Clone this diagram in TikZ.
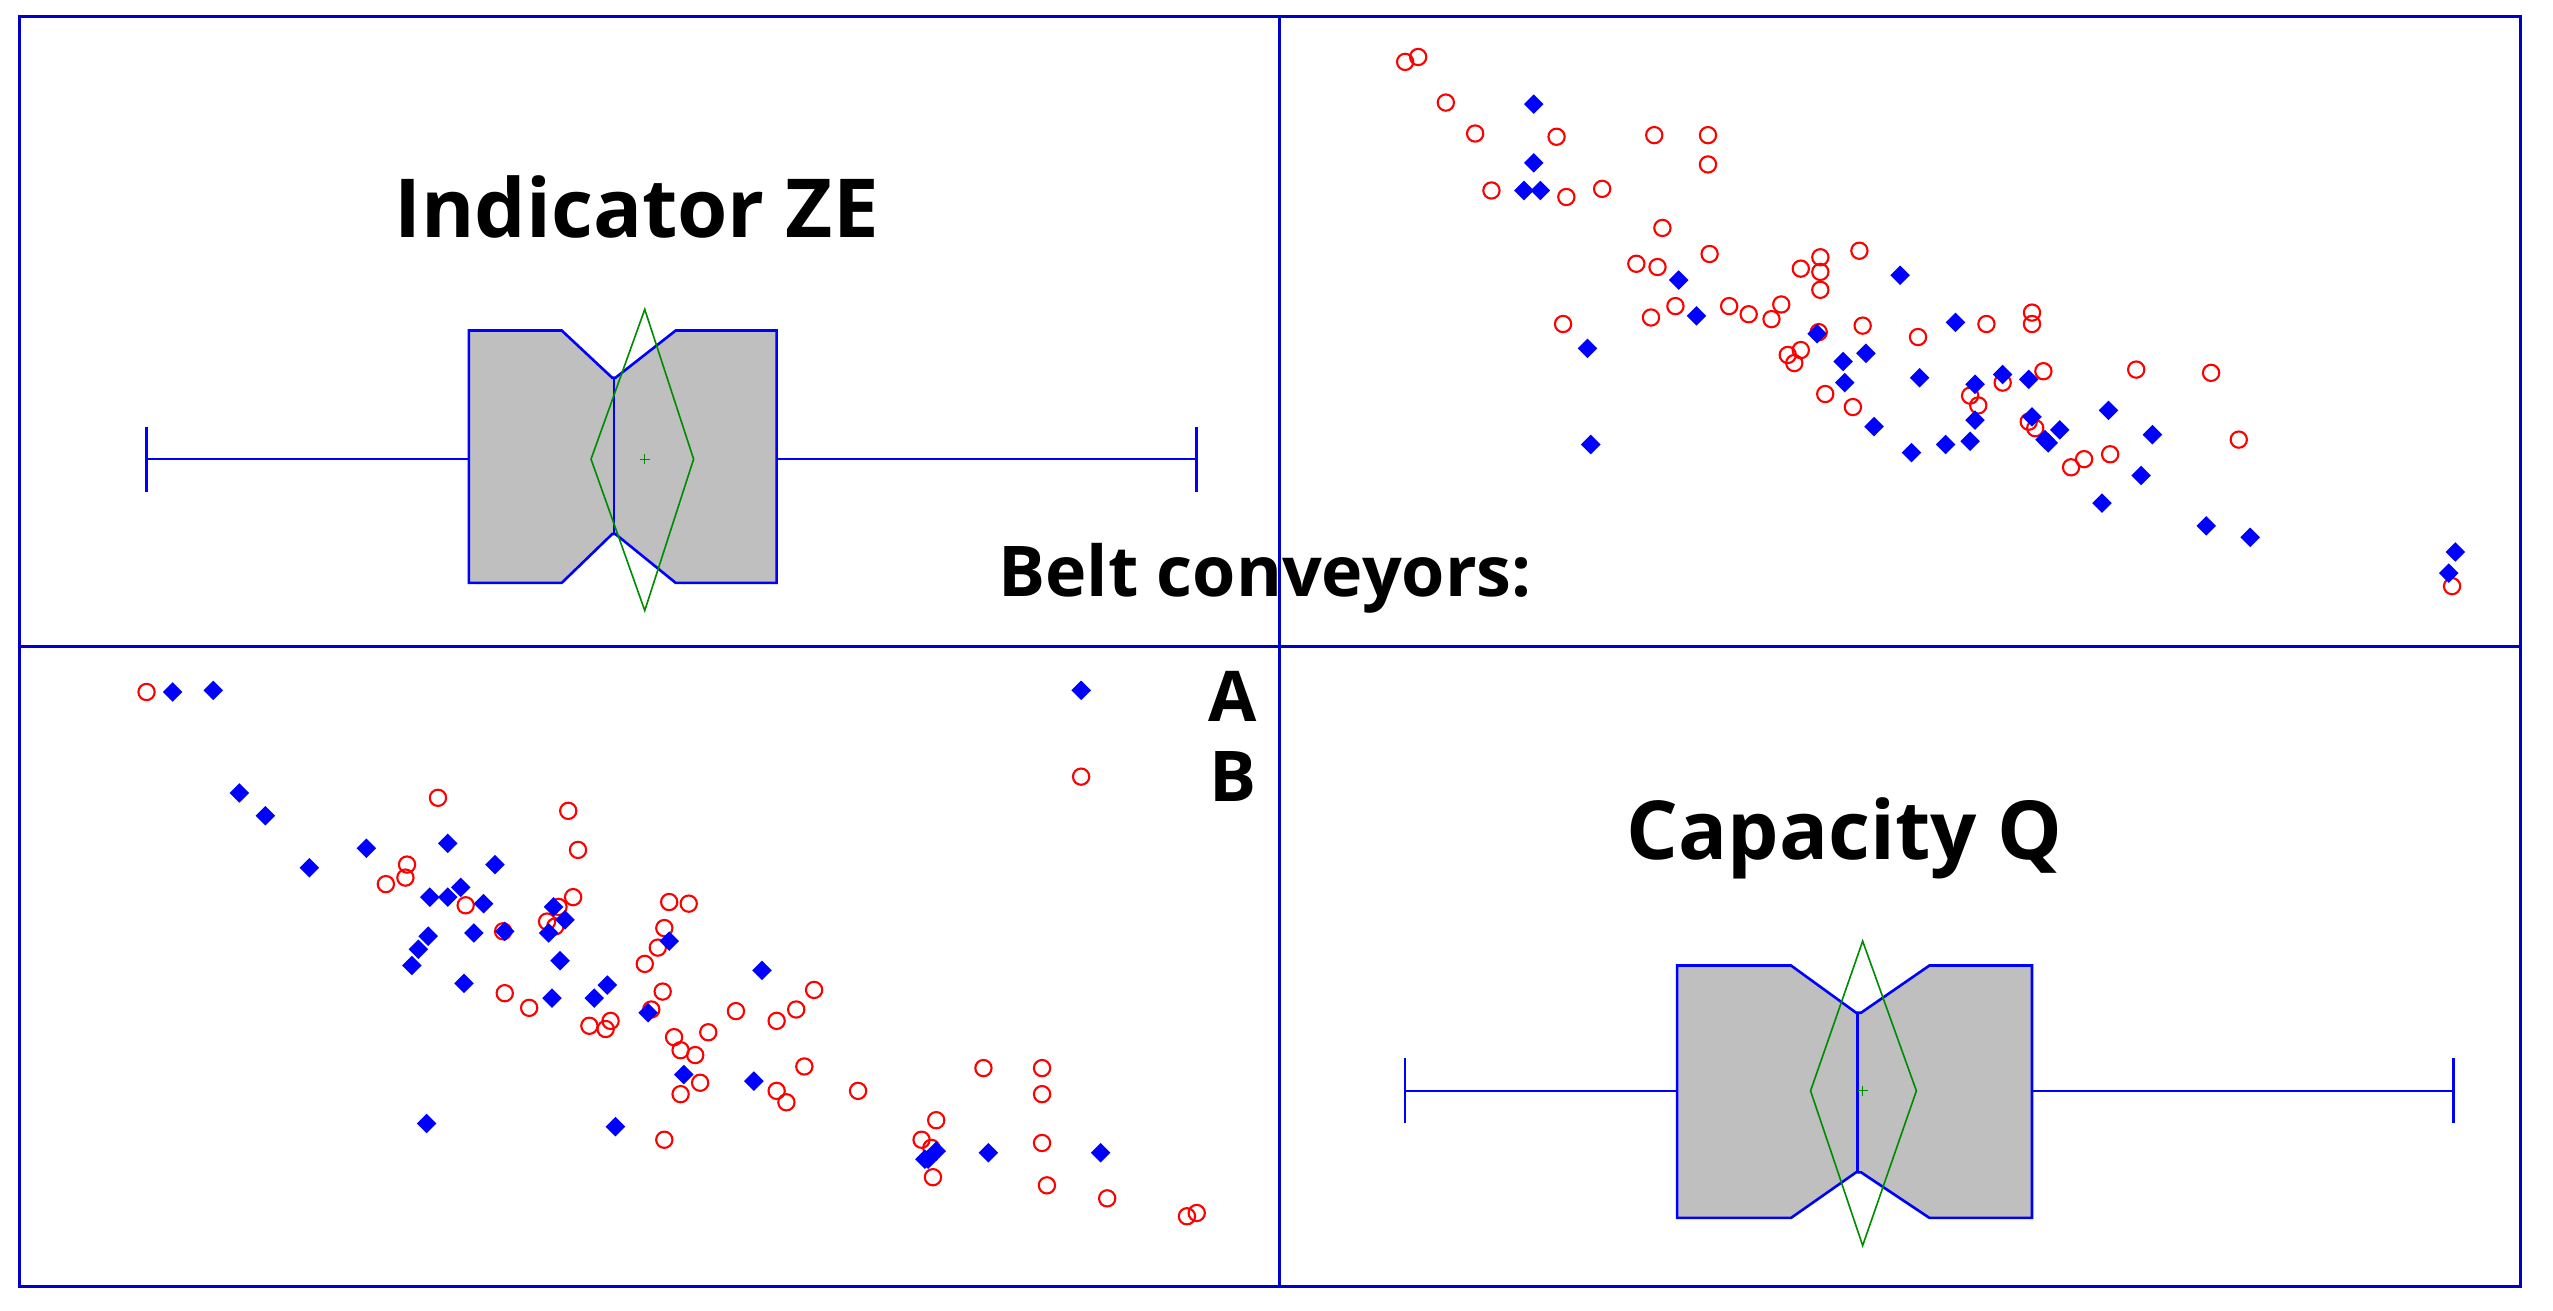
\documentclass[tikz,border=0pt]{standalone}
\usepackage{fontspec}
\setmainfont{Open Sans}
\begin{document}
\begin{tikzpicture}[x=1pt,y=-1pt,
  frame/.style={draw=blue!80!black,line width=1.6pt},
  bp/.style={draw=blue,line width=1.6pt},
  box/.style={draw=blue,fill=black!25,line width=1.6pt},
  dia/.style={draw=green!55!black,line width=1pt},
  rc/.style={draw=red,line width=1.3pt},
  bd/.style={fill=blue},
  ttl/.style={font=\fontsize{50}{56}\selectfont\bfseries},
  lbl/.style={font=\fontsize{43}{48}\selectfont\bfseries}]
\useasboundingbox (0,0) rectangle (1568,805);
\draw[frame] (12,10) rectangle (1548,790);
\draw[frame] (786,10) -- (786,790);
\draw[frame] (12,397) -- (1548,397);
% top-left boxplot
\draw[bp] (90,282) -- (288,282) (477,282) -- (735,282) (90,262) -- (90,302) (735,262) -- (735,302);
\draw[box] (288,203) -- (345,203) -- (376,232) -- (378,232) -- (415,203) -- (477,203) -- (477,358) -- (415,358) -- (378,328) -- (376,328) -- (345,358) -- (288,358) -- cycle;
\draw[bp] (377,232) -- (377,328);
\draw[dia] (396,190) -- (426,282) -- (396,375) -- (363,282) -- cycle;
\draw[dia,line width=0.5pt] (393,282) -- (399,282) (396,279) -- (396,285);
% bottom-right boxplot
\draw[bp] (863,670) -- (1030,670) (1248,670) -- (1507,670) (863,650) -- (863,690) (1507,650) -- (1507,690);
\draw[box] (1030,593) -- (1100,593) -- (1140,622) -- (1143,622) -- (1185,593) -- (1248,593) -- (1248,748) -- (1185,748) -- (1143,720) -- (1140,720) -- (1100,748) -- (1030,748) -- cycle;
\draw[bp] (1141,622) -- (1141,720);
\draw[dia] (1144,578) -- (1177,670) -- (1144,765) -- (1112,670) -- cycle;
\draw[dia,line width=0.5pt] (1141,670) -- (1147,670) (1144,667) -- (1144,673);
% texts
\node[ttl] (t1) at (391,127) {Indicator ZE};
\node[ttl] (t2) at (1133,515) {Capacity Q};
\node[lbl] (t3) at (777,355) {Belt conveyors:};
\node[lbl] (tA) at (757,428) {A};
\node[lbl] (tB) at (757,477) {B};
% scatter
\foreach \p in {(863,38),(871,35),(888,63),(906,82),(956,84),(916,117),(962,121),(984,116),(1016,83),(1049,83),(1049,101),(1021,140),(1005,162),(1018,164),(1050,156),(960,199),(1014,195),(1029,188),(1062,188),(1074,193),(1088,196),(1094,187),(1106,165),(1118,158),(1118,178),(1118,167),(1142,154),(1117,204),(1098,218),(1102,223),(1106,215),(1144,200),(1178,207),(1220,199),(1248,192),(1248,199),(1255,228),(1230,235),(1215,249),(1210,243),(1246,259),(1250,263),(1121,242),(1138,250),(1280,282),(1272,287),(1296,279),(1312,227),(1358,229),(1375,270),(1506,360),
(90,425),(664,477),(269,490),(349,498),(355,522),(250,531),(249,539),(237,543),(286,556),(352,551),(343,557),(309,572),(336,566),(341,569),(411,554),(423,555),(408,570),(404,582),(396,592),(407,609),(310,610),(325,619),(362,630),(372,632),(375,627),(400,620),(414,637),(418,645),(427,648),(435,634),(452,621),(477,627),(489,620),(500,608),(494,655),(430,665),(418,672),(477,670),(483,677),(527,670),(604,656),(640,656),(640,672),(575,688),(572,705),(566,700),(640,702),(573,723),(643,728),(680,736),(408,700),(729,747),(735,745)}
  \draw[rc] \p circle (5);
\foreach \p in {(942,64),(942,100),(936,117),(946,117),(975,214),(977,273),(1031,172),(1042,194),(1167,169),(1201,198),(1116,205),(1132,222),(1146,217),(1133,235),(1151,262),(1179,232),(1174,278),(1195,273),(1210,271),(1213,258),(1213,236),(1230,230),(1246,233),(1248,256),(1256,270),(1265,264),(1258,272),(1295,252),(1322,267),(1315,292),(1291,309),(1355,323),(1382,330),(1508,339),(1504,352),
(106,425),(131,424),(664,424),(147,487),(163,501),(190,533),(225,521),(275,518),(304,531),(264,551),(275,551),(283,545),(297,555),(263,575),(257,583),(253,593),(291,573),(310,572),(340,557),(347,565),(337,573),(411,578),(344,590),(285,604),(339,613),(365,613),(373,605),(398,622),(468,596),(420,660),(463,664),(262,690),(378,692),(570,712),(575,707),(568,712),(607,708),(676,708)}
  \fill[bd] \p ++(0,-6) -- ++(6,6) -- ++(-6,6) -- ++(-6,-6) -- cycle;
\end{tikzpicture}
\end{document}
